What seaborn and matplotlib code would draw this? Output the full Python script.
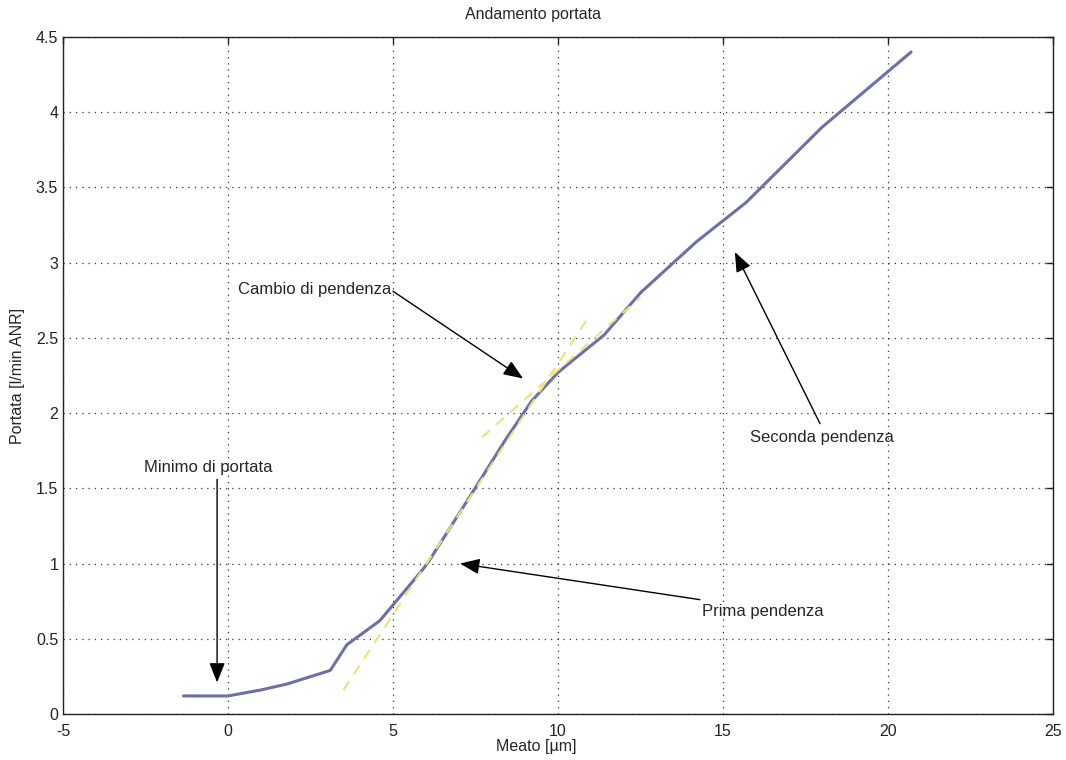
import matplotlib
matplotlib.use("Agg")
import matplotlib.pyplot as plt
import seaborn as sns
import pandas as pd

# --- data ---
meato = [-1.35, 0.0, 1.0, 1.8, 3.1, 3.6, 4.6, 5.9, 6.1, 7.4, 8.4, 9.2, 10.0,
         10.5, 11.4, 12.5, 14.2, 15.7, 18.0, 20.7]
portata = [0.12, 0.12, 0.16, 0.20, 0.29, 0.46, 0.62, 0.96, 1.02, 1.47, 1.82,
           2.08, 2.27, 2.36, 2.52, 2.80, 3.14, 3.40, 3.90, 4.40]

prima_x = [3.5, 10.9]
prima_y = [0.16, 2.63]
seconda_x = [7.7, 12.5]
seconda_y = [1.84, 2.77]

x_ticks = [-5, 0, 5, 10, 15, 20, 25]
y_ticks = [0, 0.5, 1, 1.5, 2, 2.5, 3, 3.5, 4, 4.5]
y_ticklabels = ["0", "0.5", "1", "1.5", "2", "2.5", "3", "3.5", "4", "4.5"]

sns.set_style("white")
plt.rcParams['font.family'] = ['Liberation Sans', 'DejaVu Sans']

fig = plt.figure(figsize=(10.66, 7.6), dpi=100)
ax = fig.add_axes([63/1066, 1-714/760, (1053-63)/1066, (714-37)/760])

df = pd.DataFrame({"Meato": meato, "Portata": portata})
sns.lineplot(data=df, x="Meato", y="Portata", ax=ax, sort=False, estimator=None,
             color="#6d70a8", lw=2.2, zorder=3)
sns.lineplot(x=prima_x, y=prima_y, ax=ax, color="#ece27a", lw=1.5,
             linestyle=(0, (5, 4)), zorder=4, estimator=None, sort=False)
sns.lineplot(x=seconda_x, y=seconda_y, ax=ax, color="#ece27a", lw=1.5,
             linestyle=(0, (5, 4)), zorder=4, estimator=None, sort=False)

ax.set_xlim(-5, 25)
ax.set_ylim(0, 4.5)
ax.set_xticks(x_ticks)
ax.set_xticklabels([str(t) for t in x_ticks])
ax.set_yticks(y_ticks)
ax.set_yticklabels(y_ticklabels)
ax.grid(True, linestyle=(0, (1, 4)), color="#333333", lw=0.9)
ax.tick_params(direction="in", top=True, right=True, length=5, width=1,
               labelsize=11.5, colors="#222222")
ax.tick_params(axis="x", pad=7)
for s in ax.spines.values():
    s.set_color("#222222")
    s.set_linewidth(1.0)

ax.text(0.475, 1.0 + 23/677, "Andamento portata", transform=ax.transAxes,
        ha="center", va="center", fontsize=11.5)
ax.set_xlabel("Meato [µm]", fontsize=11.5, labelpad=2)
ax.xaxis.set_label_coords(0.478, -25/677)
ax.set_ylabel("Portata [l/min ANR]", fontsize=11.5, labelpad=8)

arrow = dict(arrowstyle="-|>,head_length=1.0,head_width=0.4", color="black",
             lw=1.0, mutation_scale=12, shrinkA=0, shrinkB=0)
ax.annotate("", xy=(-0.33, 0.21), xytext=(-0.33, 1.56), arrowprops=arrow)
ax.text(-0.6, 1.64, "Minimo di portata", ha="center", va="center", fontsize=12)

ax.annotate("", xy=(8.94, 2.23), xytext=(5.0, 2.81), arrowprops=arrow)
ax.text(2.64, 2.82, "Cambio di pendenza", ha="center", va="center", fontsize=12)

ax.annotate("", xy=(15.36, 3.07), xytext=(17.94, 1.93), arrowprops=arrow)
ax.text(18.0, 1.84, "Seconda pendenza", ha="center", va="center", fontsize=12)

ax.annotate("", xy=(7.03, 1.0), xytext=(14.3, 0.76), arrowprops=arrow)
ax.text(16.2, 0.68, "Prima pendenza", ha="center", va="center", fontsize=12)

fig.savefig("out.png", dpi=100)
